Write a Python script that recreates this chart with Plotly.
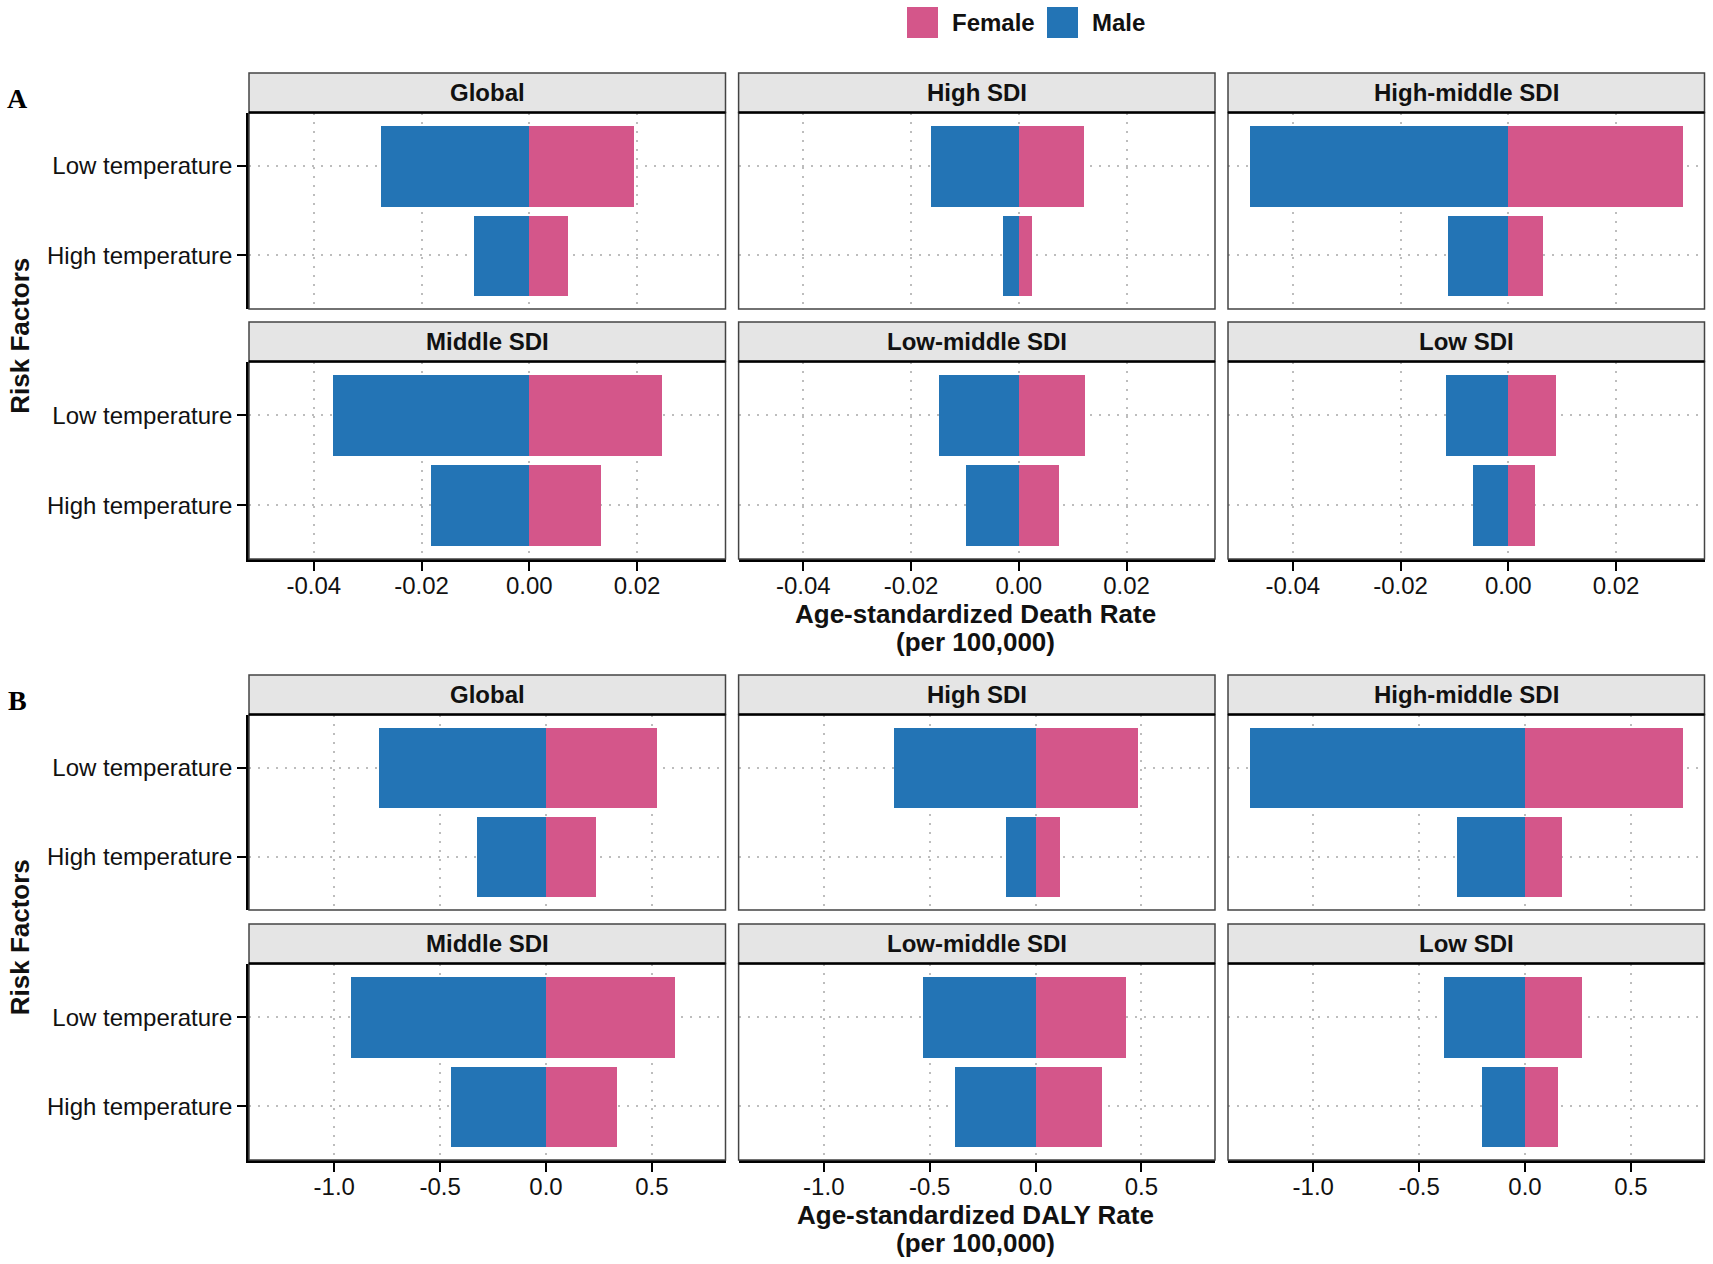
import plotly.graph_objects as go

# ---------------- data ----------------
regions = ["Global", "High SDI", "High-middle SDI", "Middle SDI", "Low-middle SDI", "Low SDI"]
risk_factors = ["Low temperature", "High temperature"]

death_male_low = [-0.0275, -0.0164, -0.0480, -0.0365, -0.0149, -0.0115]
death_female_low = [0.0194, 0.0120, 0.0324, 0.0247, 0.0123, 0.0088]
death_male_high = [-0.0103, -0.0031, -0.0111, -0.0182, -0.0099, -0.0065]
death_female_high = [0.0071, 0.0024, 0.0064, 0.0134, 0.0074, 0.0050]

daly_male_low = [-0.789, -0.672, -1.300, -0.923, -0.534, -0.381]
daly_female_low = [0.522, 0.484, 0.745, 0.610, 0.425, 0.270]
daly_male_high = [-0.324, -0.142, -0.322, -0.451, -0.380, -0.202]
daly_female_high = [0.235, 0.113, 0.176, 0.334, 0.311, 0.154]

death_ticks = [-0.04, -0.02, 0.00, 0.02]
death_ticklabels = ["-0.04", "-0.02", "0.00", "0.02"]
daly_ticks = [-1.0, -0.5, 0.0, 0.5]
daly_ticklabels = ["-1.0", "-0.5", "0.0", "0.5"]

MALE = "#2374B5"
FEMALE = "#D4568A"
FONT = "Liberation Sans, Arial, sans-serif"

W, H = 1713, 1264


def fx(x):
    return x / W


def fy(y):
    return 1 - y / H


col_x = [(249, 725.5), (738.6, 1215), (1228, 1704.5)]
rows_y = [(112.5, 309), (361.6, 559), (714.5, 910), (963.6, 1160)]
STRIP_H = 39.5
GRID_DASH = "2px,7px"


def expand(vals):
    lo, hi = min(vals), max(vals)
    d = (hi - lo) * 0.05
    return [lo - d, hi + d]


blocks = [
    dict(ml=death_male_low, fl=death_female_low, mh=death_male_high, fh=death_female_high,
         ticks=death_ticks, labels=death_ticklabels,
         title="Age-standardized Death Rate"),
    dict(ml=daly_male_low, fl=daly_female_low, mh=daly_male_high, fh=daly_female_high,
         ticks=daly_ticks, labels=daly_ticklabels,
         title="Age-standardized DALY Rate"),
]

fig = go.Figure()
layout = {}
shapes = []
annotations = []

for b, blk in enumerate(blocks):
    xr = expand(blk["ml"] + blk["fl"] + blk["mh"] + blk["fh"] + [0])
    for i, reg in enumerate(regions):
        r = b * 2 + i // 3
        c = i % 3
        n = b * 6 + i + 1
        xa = "x" if n == 1 else f"x{n}"
        ya = "y" if n == 1 else f"y{n}"
        x0, x1 = col_x[c]
        ytop, ybot = rows_y[r]
        bottom_row = (i // 3 == 1)
        left_col = (c == 0)

        fig.add_trace(go.Bar(
            y=risk_factors, x=[blk["ml"][i], blk["mh"][i]], orientation="h",
            marker=dict(color=MALE, line=dict(width=0)), width=0.9, name="Male",
            showlegend=False, xaxis=xa, yaxis=ya))
        fig.add_trace(go.Bar(
            y=risk_factors, x=[blk["fl"][i], blk["fh"][i]], orientation="h",
            marker=dict(color=FEMALE, line=dict(width=0)), width=0.9, name="Female",
            showlegend=False, xaxis=xa, yaxis=ya))

        layout["xaxis" if n == 1 else f"xaxis{n}"] = dict(
            domain=[fx(x0), fx(x1)], anchor=ya, range=xr,
            tickvals=blk["ticks"], ticktext=blk["labels"],
            showticklabels=bottom_row,
            ticks="outside" if bottom_row else "", ticklen=9, tickwidth=2, tickcolor="#000",
            ticklabelstandoff=-6,
            showgrid=True, gridcolor="#BDBDBD", griddash=GRID_DASH, gridwidth=1.8,
            zeroline=False,
            showline=bottom_row, linecolor="#000", linewidth=2.5,
            tickfont=dict(family=FONT, size=24, color="#111"),
        )
        layout["yaxis" if n == 1 else f"yaxis{n}"] = dict(
            domain=[fy(ybot), fy(ytop)], anchor=xa, type="category",
            categoryorder="array", categoryarray=["High temperature", "Low temperature"],
            range=[-0.6, 1.6],
            showticklabels=left_col,
            ticks="outside" if left_col else "", ticklen=9, tickwidth=2, tickcolor="#000",
            showgrid=True, gridcolor="#BDBDBD", griddash=GRID_DASH, gridwidth=1.8,
            zeroline=False,
            showline=left_col, linecolor="#000", linewidth=2.5,
            tickfont=dict(family=FONT, size=24, color="#111"),
        )

        # panel border
        shapes.append(dict(type="rect", xref="paper", yref="paper",
                           x0=fx(x0), x1=fx(x1), y0=fy(ybot), y1=fy(ytop),
                           line=dict(color="#444", width=1.5), fillcolor="rgba(0,0,0,0)",
                           layer="above"))
        # strip
        shapes.append(dict(type="rect", xref="paper", yref="paper",
                           x0=fx(x0), x1=fx(x1), y0=fy(ytop), y1=fy(ytop - STRIP_H),
                           line=dict(color="#444", width=1.5), fillcolor="#E5E5E5",
                           layer="above"))
        shapes.append(dict(type="line", xref="paper", yref="paper",
                           x0=fx(x0), x1=fx(x1), y0=fy(ytop), y1=fy(ytop),
                           line=dict(color="#000", width=2.5), layer="above"))
        annotations.append(dict(xref="paper", yref="paper", x=fx((x0 + x1) / 2),
                                y=fy(ytop - STRIP_H / 2), text=f"<b>{reg}</b>",
                                showarrow=False, xanchor="center", yanchor="middle",
                                font=dict(family=FONT, size=24, color="#111")))

    # axis titles
    bottom_y = rows_y[b * 2 + 1][1]
    annotations.append(dict(xref="paper", yref="paper", x=fx(975), y=fy(bottom_y + 55),
                            text=f"<b>{blk['title']}</b>", showarrow=False,
                            xanchor="center", yanchor="middle",
                            font=dict(family=FONT, size=26, color="#111")))
    annotations.append(dict(xref="paper", yref="paper", x=fx(975), y=fy(bottom_y + 83),
                            text="<b>(per 100,000)</b>", showarrow=False,
                            xanchor="center", yanchor="middle",
                            font=dict(family=FONT, size=26, color="#111")))
    ymid = (rows_y[b * 2][0] + rows_y[b * 2 + 1][1]) / 2
    annotations.append(dict(xref="paper", yref="paper", x=fx(20), y=fy(ymid),
                            text="<b>Risk Factors</b>", showarrow=False, textangle=-90,
                            xanchor="center", yanchor="middle",
                            font=dict(family=FONT, size=26, color="#111")))
    # panel letter
    annotations.append(dict(xref="paper", yref="paper", x=fx(17), y=fy(rows_y[b * 2][0] - 14),
                            text="<b>" + ("A" if b == 0 else "B") + "</b>", showarrow=False,
                            xanchor="center", yanchor="middle",
                            font=dict(family="Liberation Serif, Times New Roman, serif",
                                      size=28, color="#000")))

# legend (drawn manually to match large square keys)
legend_items = [("Female", FEMALE, 907), ("Male", MALE, 1047)]
for lab, col, kx in legend_items:
    shapes.append(dict(type="rect", xref="paper", yref="paper",
                       x0=fx(kx), x1=fx(kx + 31), y0=fy(38), y1=fy(7),
                       line=dict(width=0), fillcolor=col))
    annotations.append(dict(xref="paper", yref="paper", x=fx(kx + 43), y=fy(22.5),
                            text=f"<b>{lab}</b>", showarrow=False,
                            xanchor="left", yanchor="middle",
                            font=dict(family=FONT, size=24, color="#111")))

fig.update_layout(
    width=W, height=H,
    margin=dict(l=0, r=0, t=0, b=0),
    paper_bgcolor="white", plot_bgcolor="white",
    barmode="overlay", bargap=0,
    showlegend=False,
    shapes=shapes, annotations=annotations,
    font=dict(family=FONT, color="#111"),
    **layout,
)

fig.write_html("out.html",
               config={"displayModeBar": False},
               post_script="document.body.style.margin='0px';document.body.style.overflow='hidden';")
